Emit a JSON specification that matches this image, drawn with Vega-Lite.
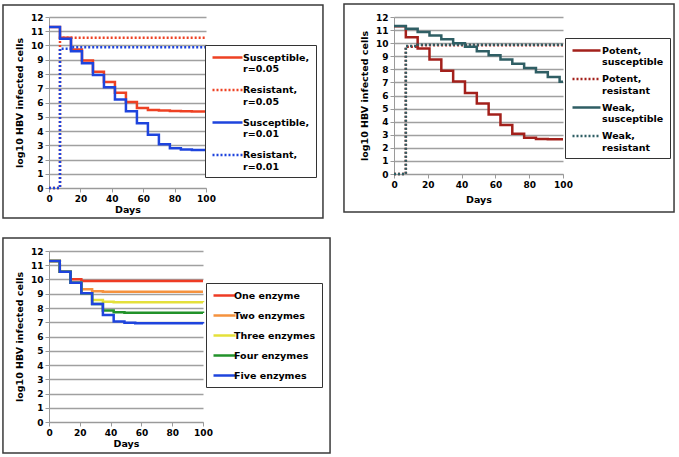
{
  "$schema": "https://vega.github.io/schema/vega-lite/v6.json",
  "padding": {"left": 2, "top": 3, "right": 2, "bottom": 2},
  "background": "white",
  "config": {
    "font": "DejaVu Sans",
    "view": {"stroke": null},
    "axis": {
      "labelFont": "DejaVu Sans", "labelFontWeight": "bold", "labelFontSize": 9, "labelColor": "#000",
      "titleFont": "DejaVu Sans", "titleFontWeight": "bold", "titleFontSize": 9.5, "titleColor": "#000",
      "domainColor": "#9a9a9a", "tickColor": "#9a9a9a", "tickSize": 4, "gridColor": "#a0a0a0", "gridWidth": 1.5
    },
    "axisX": {"grid": false, "labelFlush": false, "labelPadding": 2, "titlePadding": 1},
    "axisY": {"grid": true, "labelPadding": 2, "titlePadding": 6},
    "legend": {
      "title": null, "orient": "none", "strokeColor": "#333", "fillColor": "white", "padding": 6,
      "symbolStrokeWidth": 2.5, "symbolSize": 100, "labelFont": "DejaVu Sans", "labelFontWeight": "bold",
      "labelFontSize": 9.5, "labelColor": "#000", "labelBaseline": "middle", "labelLimit": 300
    }
  },
  "datasets": {
    "p1": [
      {"series": "Susceptible, r=0.05", "day": 0, "value": 11.3},
      {"series": "Susceptible, r=0.05", "day": 7, "value": 10.55},
      {"series": "Susceptible, r=0.05", "day": 14, "value": 9.72},
      {"series": "Susceptible, r=0.05", "day": 21, "value": 8.95},
      {"series": "Susceptible, r=0.05", "day": 28, "value": 8.16},
      {"series": "Susceptible, r=0.05", "day": 35, "value": 7.43},
      {"series": "Susceptible, r=0.05", "day": 42, "value": 6.68},
      {"series": "Susceptible, r=0.05", "day": 49, "value": 6.03},
      {"series": "Susceptible, r=0.05", "day": 56, "value": 5.62},
      {"series": "Susceptible, r=0.05", "day": 63, "value": 5.47},
      {"series": "Susceptible, r=0.05", "day": 70, "value": 5.43},
      {"series": "Susceptible, r=0.05", "day": 77, "value": 5.4},
      {"series": "Susceptible, r=0.05", "day": 84, "value": 5.38},
      {"series": "Susceptible, r=0.05", "day": 91, "value": 5.37},
      {"series": "Susceptible, r=0.05", "day": 100, "value": 5.37},
      {"series": "Resistant, r=0.05", "day": 0, "value": 0},
      {"series": "Resistant, r=0.05", "day": 7, "value": 10.55},
      {"series": "Resistant, r=0.05", "day": 100, "value": 10.55},
      {"series": "Susceptible, r=0.01", "day": 0, "value": 11.3},
      {"series": "Susceptible, r=0.01", "day": 7, "value": 10.48},
      {"series": "Susceptible, r=0.01", "day": 14, "value": 9.6},
      {"series": "Susceptible, r=0.01", "day": 21, "value": 8.75},
      {"series": "Susceptible, r=0.01", "day": 28, "value": 7.93},
      {"series": "Susceptible, r=0.01", "day": 35, "value": 7.07},
      {"series": "Susceptible, r=0.01", "day": 42, "value": 6.21},
      {"series": "Susceptible, r=0.01", "day": 49, "value": 5.39},
      {"series": "Susceptible, r=0.01", "day": 56, "value": 4.55},
      {"series": "Susceptible, r=0.01", "day": 63, "value": 3.73},
      {"series": "Susceptible, r=0.01", "day": 70, "value": 3.07},
      {"series": "Susceptible, r=0.01", "day": 77, "value": 2.79},
      {"series": "Susceptible, r=0.01", "day": 84, "value": 2.7},
      {"series": "Susceptible, r=0.01", "day": 91, "value": 2.66},
      {"series": "Susceptible, r=0.01", "day": 100, "value": 2.66},
      {"series": "Resistant, r=0.01", "day": 0, "value": 0},
      {"series": "Resistant, r=0.01", "day": 7, "value": 9.78},
      {"series": "Resistant, r=0.01", "day": 14, "value": 9.88},
      {"series": "Resistant, r=0.01", "day": 100, "value": 9.88}
    ],
    "p2": [
      {"series": "Potent, susceptible", "day": 0, "value": 11.3},
      {"series": "Potent, susceptible", "day": 7, "value": 10.45},
      {"series": "Potent, susceptible", "day": 14, "value": 9.6},
      {"series": "Potent, susceptible", "day": 21, "value": 8.75},
      {"series": "Potent, susceptible", "day": 28, "value": 7.9},
      {"series": "Potent, susceptible", "day": 35, "value": 7.07},
      {"series": "Potent, susceptible", "day": 42, "value": 6.2},
      {"series": "Potent, susceptible", "day": 49, "value": 5.39},
      {"series": "Potent, susceptible", "day": 56, "value": 4.55},
      {"series": "Potent, susceptible", "day": 63, "value": 3.74},
      {"series": "Potent, susceptible", "day": 70, "value": 3.08},
      {"series": "Potent, susceptible", "day": 77, "value": 2.78},
      {"series": "Potent, susceptible", "day": 84, "value": 2.68},
      {"series": "Potent, susceptible", "day": 91, "value": 2.65},
      {"series": "Potent, susceptible", "day": 100, "value": 2.65},
      {"series": "Potent, resistant", "day": 0, "value": 0},
      {"series": "Potent, resistant", "day": 7, "value": 9.72},
      {"series": "Potent, resistant", "day": 14, "value": 9.85},
      {"series": "Potent, resistant", "day": 100, "value": 9.85},
      {"series": "Weak, susceptible", "day": 0, "value": 11.32},
      {"series": "Weak, susceptible", "day": 7, "value": 11.1},
      {"series": "Weak, susceptible", "day": 14, "value": 10.86},
      {"series": "Weak, susceptible", "day": 21, "value": 10.58},
      {"series": "Weak, susceptible", "day": 28, "value": 10.3},
      {"series": "Weak, susceptible", "day": 35, "value": 10.0},
      {"series": "Weak, susceptible", "day": 42, "value": 9.72},
      {"series": "Weak, susceptible", "day": 49, "value": 9.38},
      {"series": "Weak, susceptible", "day": 56, "value": 9.08},
      {"series": "Weak, susceptible", "day": 63, "value": 8.75},
      {"series": "Weak, susceptible", "day": 70, "value": 8.42},
      {"series": "Weak, susceptible", "day": 77, "value": 8.11},
      {"series": "Weak, susceptible", "day": 84, "value": 7.78},
      {"series": "Weak, susceptible", "day": 91, "value": 7.42},
      {"series": "Weak, susceptible", "day": 98, "value": 7.05},
      {"series": "Weak, susceptible", "day": 100, "value": 7.05},
      {"series": "Weak, resistant", "day": 0, "value": 0},
      {"series": "Weak, resistant", "day": 7, "value": 9.78},
      {"series": "Weak, resistant", "day": 14, "value": 9.88},
      {"series": "Weak, resistant", "day": 100, "value": 9.88}
    ],
    "p3": [
      {"series": "One enzyme", "day": 0, "value": 11.3},
      {"series": "One enzyme", "day": 7, "value": 10.55},
      {"series": "One enzyme", "day": 14, "value": 10.02},
      {"series": "One enzyme", "day": 21, "value": 9.9},
      {"series": "One enzyme", "day": 100, "value": 9.9},
      {"series": "Two enzymes", "day": 0, "value": 11.3},
      {"series": "Two enzymes", "day": 7, "value": 10.55},
      {"series": "Two enzymes", "day": 14, "value": 9.78},
      {"series": "Two enzymes", "day": 21, "value": 9.32},
      {"series": "Two enzymes", "day": 28, "value": 9.17},
      {"series": "Two enzymes", "day": 35, "value": 9.14},
      {"series": "Two enzymes", "day": 100, "value": 9.14},
      {"series": "Three enzymes", "day": 0, "value": 11.3},
      {"series": "Three enzymes", "day": 7, "value": 10.55},
      {"series": "Three enzymes", "day": 14, "value": 9.78},
      {"series": "Three enzymes", "day": 21, "value": 9.03},
      {"series": "Three enzymes", "day": 28, "value": 8.57},
      {"series": "Three enzymes", "day": 35, "value": 8.43},
      {"series": "Three enzymes", "day": 42, "value": 8.41},
      {"series": "Three enzymes", "day": 100, "value": 8.4},
      {"series": "Four enzymes", "day": 0, "value": 11.3},
      {"series": "Four enzymes", "day": 7, "value": 10.55},
      {"series": "Four enzymes", "day": 14, "value": 9.78},
      {"series": "Four enzymes", "day": 21, "value": 9.03},
      {"series": "Four enzymes", "day": 28, "value": 8.28},
      {"series": "Four enzymes", "day": 35, "value": 7.82},
      {"series": "Four enzymes", "day": 42, "value": 7.7},
      {"series": "Four enzymes", "day": 49, "value": 7.66},
      {"series": "Four enzymes", "day": 100, "value": 7.65},
      {"series": "Five enzymes", "day": 0, "value": 11.3},
      {"series": "Five enzymes", "day": 7, "value": 10.55},
      {"series": "Five enzymes", "day": 14, "value": 9.78},
      {"series": "Five enzymes", "day": 21, "value": 9.03},
      {"series": "Five enzymes", "day": 28, "value": 8.28},
      {"series": "Five enzymes", "day": 35, "value": 7.51},
      {"series": "Five enzymes", "day": 42, "value": 7.06},
      {"series": "Five enzymes", "day": 49, "value": 6.96},
      {"series": "Five enzymes", "day": 56, "value": 6.93},
      {"series": "Five enzymes", "day": 100, "value": 6.92}
    ]
  },
  "vconcat": [
    {
      "hconcat": [
        {
          "width": 157, "height": 171,
          "layer": [
            {
              "data": {"name": "p1"},
              "mark": {"type": "line", "interpolate": "step-after", "strokeWidth": 2.5},
              "encoding": {
                "x": {"field": "day", "type": "quantitative", "scale": {"domain": [0, 100], "nice": false},
                      "axis": {"values": [0, 20, 40, 60, 80, 100], "title": "Days", "labelOverlap": false}},
                "y": {"field": "value", "type": "quantitative", "scale": {"domain": [0, 12], "nice": false},
                      "axis": {"values": [0,1,2,3,4,5,6,7,8,9,10,11,12], "title": "log10 HBV infected cells", "labelOverlap": false, "grid": true}},
                "color": {"field": "series", "type": "nominal",
                  "scale": {"domain": ["Susceptible, r=0.05", "Resistant, r=0.05", "Susceptible, r=0.01", "Resistant, r=0.01"],
                            "range": ["#ee4123", "#ee4123", "#1e44dd", "#1e44dd"]},
                  "legend": {"legendX": 156, "legendY": 28, "symbolType": "M-1,0H5", "labelOffset": 19, "rowPadding": 9.5, "labelLineHeight": 11,
                             "labelExpr": "split(datum.label, ' ')"}},
                "strokeDash": {"field": "series", "type": "nominal",
                  "scale": {"domain": ["Susceptible, r=0.05", "Resistant, r=0.05", "Susceptible, r=0.01", "Resistant, r=0.01"],
                            "range": [[1, 0], [2, 2], [1, 0], [2, 2]]},
                  "legend": {"legendX": 156, "legendY": 28, "symbolType": "M-1,0H5", "labelOffset": 19, "rowPadding": 9.5, "labelLineHeight": 11,
                             "labelExpr": "split(datum.label, ' ')"}}
              }
            },
            {
              "data": {"values": [{}]},
              "mark": {"type": "rect", "clip": false, "filled": false, "stroke": "#3a3a3a", "strokeWidth": 1.5},
              "encoding": {
                "x": {"datum": -29.3, "type": "quantitative", "scale": {"domain": [0, 100], "nice": false},
                      "axis": {"values": [0, 20, 40, 60, 80, 100], "title": "Days", "labelOverlap": false}},
                "x2": {"datum": 174.5},
                "y": {"datum": -2.1, "type": "quantitative", "scale": {"domain": [0, 12], "nice": false},
                      "axis": {"values": [0,1,2,3,4,5,6,7,8,9,10,11,12], "title": "log10 HBV infected cells", "labelOverlap": false, "grid": true}},
                "y2": {"datum": 12.85}
              }
            }
          ]
        },
        {
          "width": 169, "height": 157,
          "layer": [
            {
              "data": {"name": "p2"},
              "mark": {"type": "line", "interpolate": "step-after", "strokeWidth": 2.5},
              "encoding": {
                "x": {"field": "day", "type": "quantitative", "scale": {"domain": [0, 100], "nice": false},
                      "axis": {"values": [0, 20, 40, 60, 80, 100], "title": "Days", "titlePadding": 5, "labelOverlap": false}},
                "y": {"field": "value", "type": "quantitative", "scale": {"domain": [0, 12], "nice": false},
                      "axis": {"values": [0,1,2,3,4,5,6,7,8,9,10,11,12], "title": "log10 HBV infected cells", "labelOverlap": false, "grid": true}},
                "color": {"field": "series", "type": "nominal",
                  "scale": {"domain": ["Potent, susceptible", "Potent, resistant", "Weak, susceptible", "Weak, resistant"],
                            "range": ["#a3201b", "#a3201b", "#2f5e64", "#2f5e64"]},
                  "legend": {"legendX": 171, "legendY": 21, "symbolType": "M-1,0H4.6", "labelOffset": 18, "rowPadding": 5.5, "labelLineHeight": 11,
                             "labelExpr": "split(datum.label, ' ')"}},
                "strokeDash": {"field": "series", "type": "nominal",
                  "scale": {"domain": ["Potent, susceptible", "Potent, resistant", "Weak, susceptible", "Weak, resistant"],
                            "range": [[1, 0], [2, 2], [1, 0], [2, 2]]},
                  "legend": {"legendX": 171, "legendY": 21, "symbolType": "M-1,0H4.6", "labelOffset": 18, "rowPadding": 5.5, "labelLineHeight": 11,
                             "labelExpr": "split(datum.label, ' ')"}}
              }
            },
            {
              "data": {"values": [{}]},
              "mark": {"type": "rect", "clip": false, "filled": false, "stroke": "#3a3a3a", "strokeWidth": 1.5},
              "encoding": {
                "x": {"datum": -29.6, "type": "quantitative", "scale": {"domain": [0, 100], "nice": false},
                      "axis": {"values": [0, 20, 40, 60, 80, 100], "title": "Days", "titlePadding": 5, "labelOverlap": false}},
                "x2": {"datum": 165.7},
                "y": {"datum": -2.9, "type": "quantitative", "scale": {"domain": [0, 12], "nice": false},
                      "axis": {"values": [0,1,2,3,4,5,6,7,8,9,10,11,12], "title": "log10 HBV infected cells", "labelOverlap": false, "grid": true}},
                "y2": {"datum": 12.99}
              }
            }
          ]
        }
      ],
      "spacing": 19,
      "resolve": {"scale": {"color": "independent", "strokeDash": "independent"}}
    },
    {
      "width": 154, "height": 171,
      "layer": [
        {
          "data": {"name": "p3"},
          "mark": {"type": "line", "interpolate": "step-after", "strokeWidth": 2.5},
          "encoding": {
            "x": {"field": "day", "type": "quantitative", "scale": {"domain": [0, 100], "nice": false},
                  "axis": {"values": [0, 20, 40, 60, 80, 100], "title": "Days", "labelOverlap": false}},
            "y": {"field": "value", "type": "quantitative", "scale": {"domain": [0, 12], "nice": false},
                  "axis": {"values": [0,1,2,3,4,5,6,7,8,9,10,11,12], "title": "log10 HBV infected cells", "labelOverlap": false, "grid": true}},
            "color": {"field": "series", "type": "nominal",
              "scale": {"domain": ["One enzyme", "Two enzymes", "Three enzymes", "Four enzymes", "Five enzymes"],
                        "range": ["#ee3b24", "#f5923e", "#e4e03a", "#22922a", "#1e44dd"]},
              "legend": {"legendX": 157, "legendY": 32, "symbolType": "M-1,0H3.4", "labelOffset": 9, "rowPadding": 8}}
          }
        },
        {
          "data": {"values": [{}]},
          "mark": {"type": "rect", "clip": false, "filled": false, "stroke": "#3a3a3a", "strokeWidth": 1.5},
          "encoding": {
            "x": {"datum": -29.9, "type": "quantitative", "scale": {"domain": [0, 100], "nice": false},
                  "axis": {"values": [0, 20, 40, 60, 80, 100], "title": "Days", "labelOverlap": false}},
            "x2": {"datum": 182.5},
            "y": {"datum": -2.18, "type": "quantitative", "scale": {"domain": [0, 12], "nice": false},
                  "axis": {"values": [0,1,2,3,4,5,6,7,8,9,10,11,12], "title": "log10 HBV infected cells", "labelOverlap": false, "grid": true}},
            "y2": {"datum": 12.91}
          }
        }
      ]
    }
  ],
  "spacing": 18,
  "resolve": {"scale": {"color": "independent", "strokeDash": "independent"}}
}
